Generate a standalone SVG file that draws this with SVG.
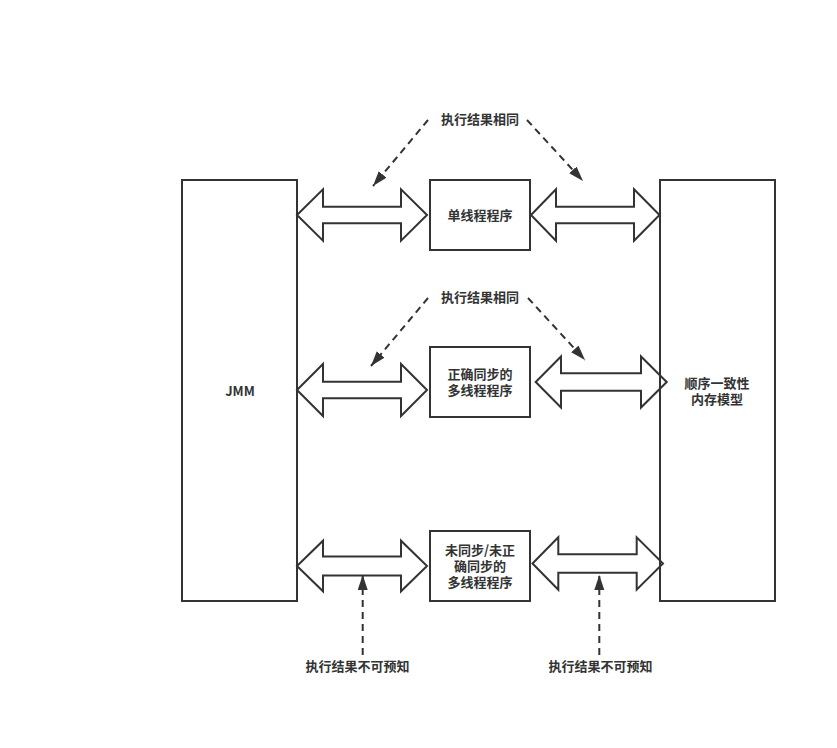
<svg xmlns="http://www.w3.org/2000/svg" width="837" height="748" viewBox="0 0 837 748">
<style>
.box{fill:none;stroke:#333;stroke-width:2}
.node{fill:#fff;stroke:#333;stroke-width:2}
.dbl{fill:#fff;stroke:#333;stroke-width:2;stroke-linejoin:miter}
.dash{fill:none;stroke:#333;stroke-width:2;stroke-dasharray:7 5}
text{font-family:"Noto Sans CJK SC","Liberation Sans",sans-serif;font-size:13px;font-weight:bold;fill:#333;text-anchor:middle}
</style>
<defs>
<marker id="ah" markerUnits="userSpaceOnUse" markerWidth="16" markerHeight="12" refX="15" refY="5" orient="auto">
<path d="M0,0 L15,5 L0,10 Z" fill="#333"/>
</marker>
</defs>
<rect width="837" height="748" fill="#fff"/>
<g id="connectors">
<polygon class="dbl" points="297,215 323,189.3 323,206.7 401,206.7 401,189.3 427,215 401,240.7 401,223.3 323,223.3 323,240.7"/>
<polygon class="dbl" points="531,215 556,189.3 556,206.7 634,206.7 634,189.3 659.5,215 634,240.7 634,223.3 556,223.3 556,240.7"/>
<polygon class="dbl" points="297,390 323,364 323,381.7 401,381.7 401,364 427,390 401,416 401,398.3 323,398.3 323,416"/>
<polygon class="dbl" points="535.7,382 561,356.5 561,373.3 641,373.3 641,356.5 666.7,382 641,407.5 641,390.7 561,390.7 561,407.5"/>
<polygon class="dbl" points="297,566 323,540.7 323,556.5 401,556.5 401,540.7 427,566 401,591.3 401,575.5 323,575.5 323,591.3"/>
<polygon class="dbl" points="532.5,563.5 558.3,537.3 558.3,554.3 636.7,554.3 636.7,537.3 663,563.5 636.7,589.7 636.7,572.7 558.3,572.7 558.3,589.7"/>
<line class="dash" x1="428" y1="120" x2="373" y2="186" marker-end="url(#ah)"/>
<line class="dash" x1="527" y1="120" x2="583" y2="181" marker-end="url(#ah)"/>
<line class="dash" x1="428" y1="298" x2="371" y2="366" marker-end="url(#ah)"/>
<line class="dash" x1="528" y1="298" x2="585" y2="360" marker-end="url(#ah)"/>
<line class="dash" x1="362.7" y1="655" x2="362.7" y2="575" marker-end="url(#ah)"/>
<line class="dash" x1="599.3" y1="655" x2="599.3" y2="575" marker-end="url(#ah)"/>
</g>
<g id="jmm">
<rect class="box" x="182" y="180" width="115" height="421"/>
<text x="240" y="395.5">JMM</text>
</g>
<g id="sc">
<rect class="box" x="660" y="180" width="115" height="421"/>
<text x="717" y="388"><tspan x="717" y="388">顺序一致性</tspan><tspan x="717" y="404">内存模型</tspan></text>
</g>
<g id="single">
<rect class="node" x="430" y="180" width="100" height="70"/>
<text x="480" y="219.5">单线程程序</text>
</g>
<g id="synced">
<rect class="node" x="430" y="347" width="100" height="70"/>
<text x="480" y="379"><tspan x="480" y="379">正确同步的</tspan><tspan x="480" y="395">多线程程序</tspan></text>
</g>
<g id="unsynced">
<rect class="node" x="430" y="531" width="100" height="70"/>
<text x="480" y="555"><tspan x="480" y="555">未同步/未正</tspan><tspan x="480" y="571">确同步的</tspan><tspan x="480" y="587">多线程程序</tspan></text>
</g>
<g id="labels">
<text x="480" y="124">执行结果相同</text>
<text x="480" y="301.5">执行结果相同</text>
<text x="357.5" y="671">执行结果不可预知</text>
<text x="600.5" y="671">执行结果不可预知</text>
</g>
</svg>
